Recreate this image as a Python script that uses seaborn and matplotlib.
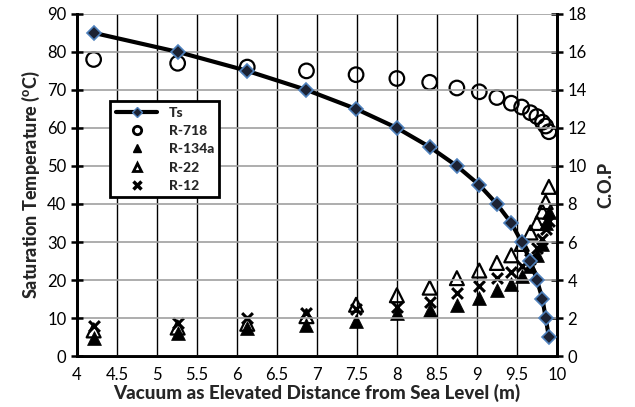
import matplotlib
matplotlib.use("Agg")
import matplotlib.pyplot as plt
from matplotlib.lines import Line2D
import pandas as pd
import seaborn as sns

# vacuum height (m) for each saturation temperature
distance = [4.21, 5.26, 6.13, 6.87, 7.49, 8.00, 8.41, 8.75, 9.03,
            9.25, 9.43, 9.56, 9.67, 9.75, 9.82, 9.86, 9.90]
ts = [85, 80, 75, 70, 65, 60, 55, 50, 45, 40, 35, 30, 25, 20, 15, 10, 5]

# C.O.P of each refrigerant
cop_r718 = [15.6, 15.4, 15.2, 15.0, 14.8, 14.6, 14.4, 14.1, 13.9,
            13.6, 13.3, 13.1, 12.8, 12.6, 12.3, 12.1, 11.8]
cop_r134a = [0.95, 1.2, 1.5, 1.65, 1.85, 2.25, 2.4, 2.7, 3.05,
             3.5, 3.8, 4.2, 4.75, 5.3, 5.9, 7.0, 7.6]
cop_r22 = [1.35, 1.5, 1.7, 2.1, 2.7, 3.2, 3.6, 4.1, 4.5,
           4.9, 5.3, 5.9, 6.5, 7.0, 7.6, 8.1, 8.9]
cop_r12 = [1.6, 1.75, 2.0, 2.25, 2.5, 2.6, 2.85, 3.3, 3.7,
           4.1, 4.4, 4.75, 5.1, 5.7, 6.15, 6.7, 7.1]

x_ticks = [4, 4.5, 5, 5.5, 6, 6.5, 7, 7.5, 8, 8.5, 9, 9.5, 10]
x_labels = ['4', '4.5', '5', '5.5', '6', '6.5', '7', '7.5', '8', '8.5',
            '9', '9.5', '10']

sns.set_style("white")
plt.rcParams['font.family'] = ['Lato', 'DejaVu Sans']

df = pd.DataFrame({'dist': distance, 'ts': ts, 'r718': cop_r718,
                   'r134a': cop_r134a, 'r22': cop_r22, 'r12': cop_r12})

fig = plt.figure(figsize=(6.35, 4.07), dpi=100)
ax = fig.add_axes([0.121, 0.125, 0.756, 0.841])
ax2 = ax.twinx()

# C.O.P markers on the right axis
sns.scatterplot(data=df, x='dist', y='r718', ax=ax2, marker='o', s=110,
                facecolor='none', edgecolor='black', linewidth=1.6)
sns.scatterplot(data=df, x='dist', y='r22', ax=ax2, marker='^', s=100,
                facecolor='none', edgecolor='black', linewidth=1.6)
sns.scatterplot(data=df, x='dist', y='r12', ax=ax2, marker='x', s=60,
                color='black', linewidth=2.2)
sns.scatterplot(data=df, x='dist', y='r134a', ax=ax2, marker='^', s=100,
                color='black', edgecolor='black', linewidth=0.5)

# saturation temperature line
sns.lineplot(data=df, x='dist', y='ts', ax=ax, color='black', linewidth=3,
             marker='D', markersize=7, markerfacecolor='#1c2233',
             markeredgecolor='#4f81bd', markeredgewidth=1.2, zorder=5)
ax.set_zorder(ax2.get_zorder() + 1)
ax.patch.set_visible(False)

ax.set_xlim(4, 10)
ax.set_ylim(0, 90)
ax2.set_ylim(0, 18)
ax.set_xticks(x_ticks)
ax.set_xticklabels(x_labels)
ax.set_yticks(range(0, 91, 10))
ax2.set_yticks(range(0, 19, 2))

ax.grid(True, axis='x', color='black', linewidth=1.0)
ax.grid(True, axis='y', color='#a0a0a0', linewidth=1.2)
ax.set_axisbelow(True)

for a in (ax, ax2):
    a.spines['top'].set_visible(False)
    for sp in ('left', 'right', 'bottom'):
        a.spines[sp].set_linewidth(2)
        a.spines[sp].set_color('black')
    a.tick_params(direction='inout', length=8, width=1.8, labelsize=12,
                  colors='black')

ax.set_xlabel('Vacuum as Elevated Distance from Sea Level (m)',
              fontsize=13.5, fontweight='black', labelpad=1)
ax.set_ylabel(r'Saturation Temperature ($\mathregular{^{o}}$C)',
              fontsize=13, fontweight='black', labelpad=4)
ax2.set_ylabel('C.O.P', fontsize=13, fontweight='black', labelpad=8)

handles = [
    Line2D([], [], color='black', linewidth=3, marker='D', markersize=5,
           markerfacecolor='#1c2233', markeredgecolor='#4f81bd'),
    Line2D([], [], linestyle='none', marker='o', markersize=6,
           markerfacecolor='none', markeredgecolor='black',
           markeredgewidth=2),
    Line2D([], [], linestyle='none', marker='^', markersize=6,
           color='black'),
    Line2D([], [], linestyle='none', marker='^', markersize=6,
           markerfacecolor='none', markeredgecolor='black',
           markeredgewidth=2),
    Line2D([], [], linestyle='none', marker='x', markersize=6,
           color='black', markeredgewidth=2.5),
]
labels = ['Ts', 'R-718', 'R-134a', 'R-22', 'R-12']
leg = ax.legend(handles, labels, loc='upper left',
                bbox_to_anchor=(0.055, 0.765), frameon=True, fancybox=False,
                prop={'weight': 'black', 'size': 10}, handlelength=3,
                labelspacing=0.45, borderpad=0.4)
leg.get_frame().set_edgecolor('black')
leg.get_frame().set_linewidth(2)
leg.get_frame().set_facecolor('white')
leg.get_frame().set_alpha(1)

fig.savefig('out.png', dpi=100)
